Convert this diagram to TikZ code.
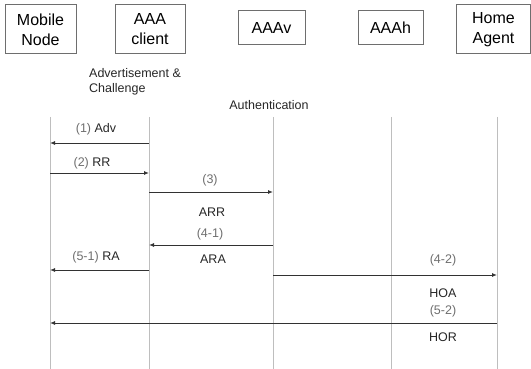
\documentclass[tikz,border=0pt]{standalone}
\usepackage{fontspec}
\setmainfont{Liberation Sans}
\usetikzlibrary{arrows.meta}
\definecolor{lifegray}{RGB}{190,190,190}
\definecolor{boxgray}{RGB}{110,110,110}
\definecolor{arrgray}{RGB}{50,50,50}
\definecolor{numgray}{RGB}{110,110,110}
\newcommand{\msgnum}[1]{{\color{numgray}#1}}
\begin{document}
\begin{tikzpicture}[x=1pt,y=-1pt,
        entity/.style={draw=boxgray,line width=1pt,align=center,inner sep=0pt,
            font=\fontsize{16}{20}\selectfont},
        lifeline/.style={draw=lifegray,line width=0.8pt},
        msg/.style={draw=arrgray,line width=0.9pt,-{Latex[length=5pt,width=4pt]}},
        msglabel/.style={font=\fontsize{12.5}{15}\selectfont,text=black!85,inner sep=0pt}]
        %% Frame
        \useasboundingbox (0,0) rectangle (531,369);
        %% Entities
        \node[entity,minimum width=71pt,minimum height=49pt] (mn) at (40.5,29.5) {Mobile\\Node};
        \node[entity,minimum width=70pt,minimum height=49pt] (aaac) at (150,29.5) {AAA\\client};
        \node[entity,minimum width=67pt,minimum height=34pt] (aaav) at (271.5,28) {AAAv};
        \node[entity,minimum width=65pt,minimum height=34pt] (aaah) at (390.5,28) {AAAh};
        \node[entity,minimum width=74pt,minimum height=49pt] (ha) at (493.5,29.5) {Home\\Agent};
        %% Phases
        \node[msglabel,anchor=west,align=left] (adv) at (89,82) {Advertisement \&\\Challenge};
        \node[msglabel,anchor=center] (auth) at (269,105) {Authentication};
        %% Lifelines
        \foreach \name/\x in {mn/50,aaac/149,aaav/273,aaah/391,ha/497} {
            \coordinate (\name-top) at (\x,117);
            \coordinate (\name-bot) at (\x,369);
            \draw[lifeline] (\name-top) -- (\name-bot);
        }
        %% (1) Adv
        \draw[msg] (aaac-top |- 0,143) -- (mn-top |- 0,143);
        \node[msglabel] (m1) at (96,129) {\msgnum{(1)} Adv};
        %% (2) RR
        \draw[msg] (mn-top |- 0,173) -- (aaac-top |- 0,173);
        \node[msglabel] (m2) at (92,163) {\msgnum{(2)} RR};
        %% (3) ARR
        \draw[msg] (aaac-top |- 0,192) -- (aaav-top |- 0,192);
        \node[msglabel] (m3) at (210,180) {\msgnum{(3)}};
        \node[msglabel] (m3b) at (212,212) {ARR};
        %% (4-1) ARA
        \draw[msg] (aaav-top |- 0,245) -- (aaac-top |- 0,245);
        \node[msglabel] (m41) at (210,234) {\msgnum{(4-1)}};
        \node[msglabel] (m41b) at (213,259) {ARA};
        %% (5-1) RA
        \draw[msg] (aaac-top |- 0,270) -- (mn-top |- 0,270);
        \node[msglabel] (m51) at (96,257) {\msgnum{(5-1)} RA};
        %% (4-2) HOA
        \draw[msg] (aaav-top |- 0,275) -- (ha-top |- 0,275);
        \node[msglabel] (m42) at (443,260) {\msgnum{(4-2)}};
        \node[msglabel] (m42b) at (443,293) {HOA};
        %% (5-2) HOR
        \draw[msg] (ha-top |- 0,323) -- (mn-top |- 0,323);
        \node[msglabel] (m52) at (443,311) {\msgnum{(5-2)}};
        \node[msglabel] (m52b) at (443,337) {HOR};
    \end{tikzpicture}
\end{document}
